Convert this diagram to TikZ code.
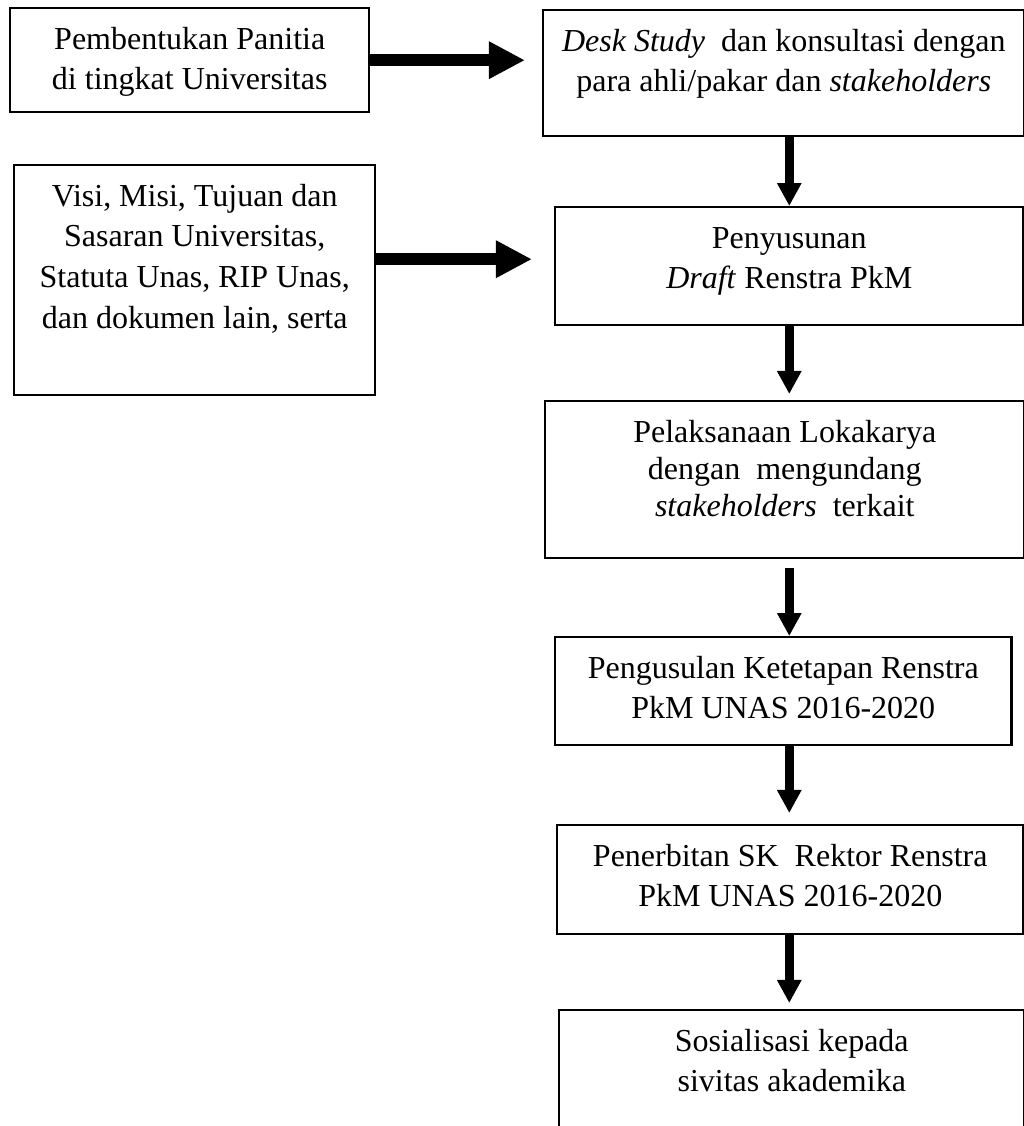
\documentclass[tikz,border=0pt]{standalone}
\usepackage{fontspec}
\setmainfont{Liberation Serif}
\usetikzlibrary{arrows.meta}

\tikzset{
	stepbox/.style 2 args={draw,line width=0.65pt,inner sep=0pt,anchor=north west,
		font=\fontsize{9.1pt}{11.6pt}\selectfont,
		execute at begin node={\begin{minipage}[t][#2][t]{#1}\centering\rule{0pt}{0.41cm}},
		execute at end node={\end{minipage}}},
	flowarrow/.style={line width=0.09cm,-{Triangle[width=0.23cm,length=0.23cm]}},
	fatarrow/.style={line width=0.12cm,-{Triangle[width=0.35cm,length=0.36cm]}}
}

\begin{document}
\begin{tikzpicture}[x=0.01cm,y=-0.01cm]
	\useasboundingbox (0,0) rectangle (1024,1126);
	
	%LEFT BOXES
	\node[stepbox={3.59cm}{1.04cm}] (panitia) at (9,7) {Pembentukan Panitia\\di tingkat Universitas};
	\node[stepbox={3.61cm}{2.30cm}] (visi) at (13,164) {Visi, Misi, Tujuan dan\\Sasaran Universitas,\\Statuta Unas, RIP Unas,\\dan dokumen lain, serta};
	
	%RIGHT COLUMN
	\node[stepbox={4.81cm}{1.26cm}] (desk) at (542,9) {\textit{Desk Study}\ \ dan konsultasi dengan\\para ahli/pakar dan \textit{stakeholders}};
	\node[stepbox={4.68cm}{1.18cm}] (draft) at (554,206) {Penyusunan\\\textit{Draft} Renstra PkM};
	\node[stepbox={4.79cm}{1.57cm},font=\fontsize{9.1pt}{10.5pt}\selectfont] (lokakarya) at (544,400) {Pelaksanaan Lokakarya\\dengan\ \ mengundang\\\textit{stakeholders}\ \ terkait};
	\node[stepbox={4.56cm}{1.08cm}] (usulan) at (554,636) {Pengusulan Ketetapan Renstra\\PkM UNAS 2016-2020};
	\node[stepbox={4.66cm}{1.09cm}] (sk) at (556,824) {Penerbitan SK\ \ Rektor Renstra\\PkM UNAS 2016-2020};
	\node[stepbox={4.65cm}{2.00cm}] (sosialisasi) at (558,1009) {Sosialisasi kepada\\sivitas akademika};
	
	%SIDE ARROWS
	\draw[fatarrow,shorten >=0.17cm] (panitia.east) -- (panitia.east -| desk.west);
	\draw[fatarrow,shorten >=0.22cm] ([yshift=0.21cm]visi.east) -- ([yshift=0.21cm]visi.east -| draft.west);
	
	%DOWN ARROWS
	\draw[flowarrow] (draft.north |- desk.south) -- (draft.north);
	\draw[flowarrow,shorten >=0.06cm] (draft.south) -- (draft.south |- lokakarya.north);
	\draw[flowarrow,shorten <=0.09cm] (draft.south |- lokakarya.south) -- (draft.south |- usulan.north);
	\draw[flowarrow,shorten >=0.11cm] (draft.south |- usulan.south) -- (draft.south |- sk.north);
	\draw[flowarrow,shorten >=0.06cm] (draft.south |- sk.south) -- (draft.south |- sosialisasi.north);
\end{tikzpicture}
\end{document}
